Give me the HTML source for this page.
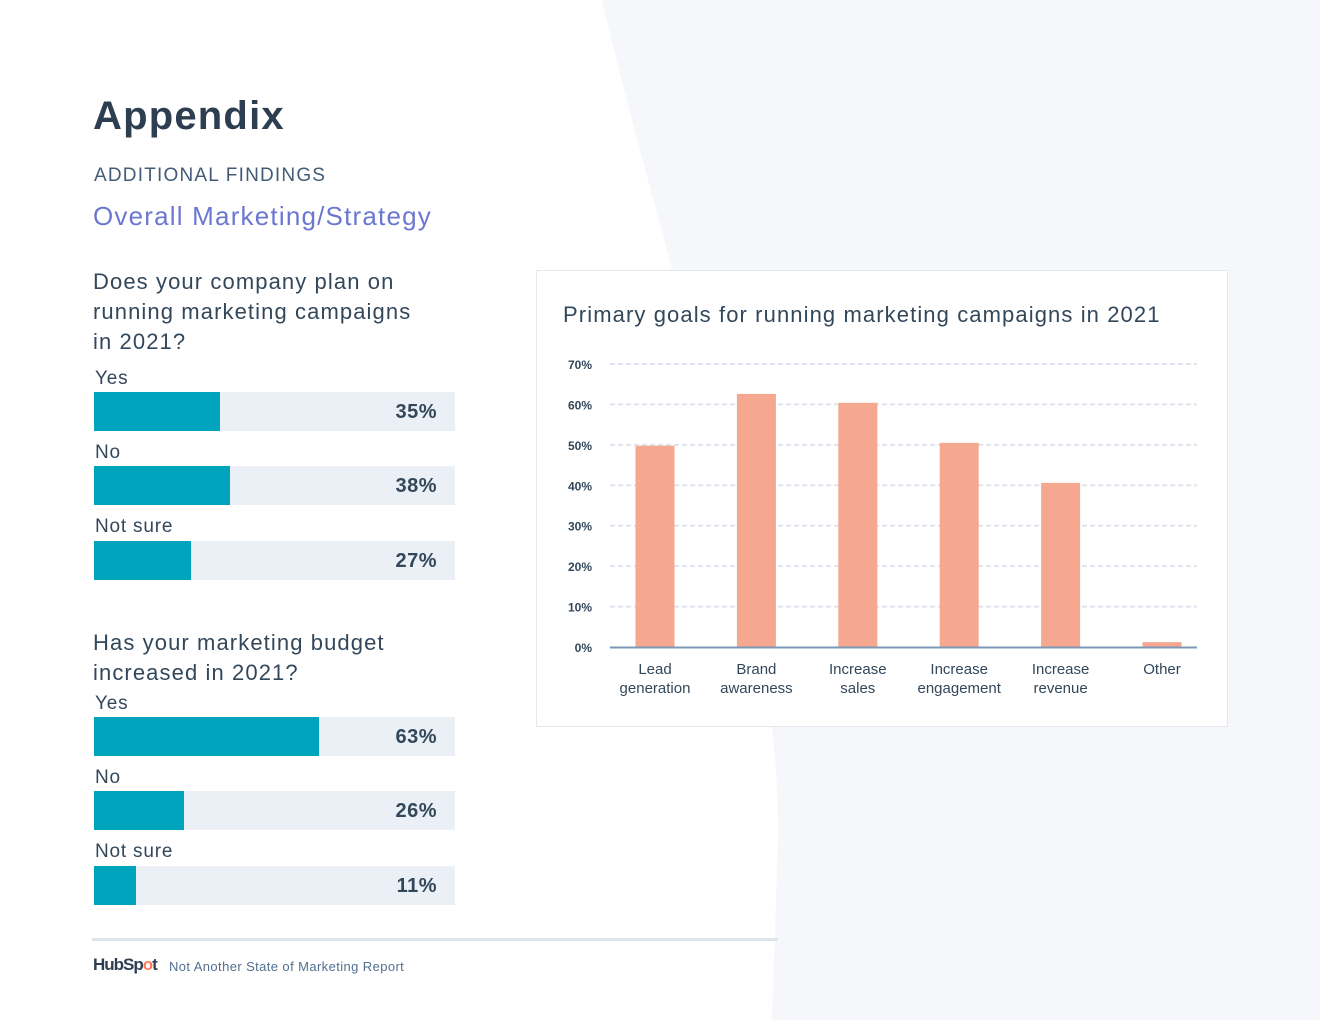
<!DOCTYPE html>
<html><head><meta charset="utf-8"><style>
body{margin:0;width:1320px;height:1020px;position:relative;overflow:hidden;background:#fff;font-family:"Liberation Sans",sans-serif;color:#33475b}
.a{position:absolute}
.lbl{position:absolute;font-size:19px;color:#33475b;left:95px;letter-spacing:.8px}
.track{position:absolute;left:94px;width:361px;height:39px;background:#eaf0f6}
.fill{height:100%;background:#00a4bd}
.val{position:absolute;right:18px;top:9px;font-size:20px;font-weight:bold;color:#33475b;letter-spacing:.5px}
.q{position:absolute;left:93px;font-size:22px;line-height:30px;color:#33475b;letter-spacing:1.1px}
</style></head><body>
<svg class="a" style="left:0;top:0" width="1320" height="1020"><path d="M602 0 C630 120 660 220 680 300 C740 520 780 700 778 840 L772 1020 L1320 1020 L1320 0 Z" fill="#f5f7fa"/></svg>
<div class="a" style="left:93px;top:94px;font-size:40px;font-weight:bold;color:#2d3e50;letter-spacing:1.2px">Appendix</div>
<div class="a" style="left:94px;top:165px;font-size:19px;color:#425b76;letter-spacing:1.2px">ADDITIONAL FINDINGS</div>
<div class="a" style="left:93px;top:201px;font-size:26px;color:#6a78d1;letter-spacing:1.2px">Overall Marketing/Strategy</div>

<div class="q" style="top:267px">Does your company plan on<br>running marketing campaigns<br>in 2021?</div>
<div class="lbl" style="top:368px">Yes</div>
<div class="track" style="top:392px"><div class="fill" style="width:35%"></div><span class="val">35%</span></div>
<div class="lbl" style="top:442px">No</div>
<div class="track" style="top:466px"><div class="fill" style="width:37.7%"></div><span class="val">38%</span></div>
<div class="lbl" style="top:516px">Not sure</div>
<div class="track" style="top:541px"><div class="fill" style="width:27%"></div><span class="val">27%</span></div>

<div class="q" style="top:628px">Has your marketing budget<br>increased in 2021?</div>
<div class="lbl" style="top:693px">Yes</div>
<div class="track" style="top:717px"><div class="fill" style="width:62.3%"></div><span class="val">63%</span></div>
<div class="lbl" style="top:767px">No</div>
<div class="track" style="top:791px"><div class="fill" style="width:25%"></div><span class="val">26%</span></div>
<div class="lbl" style="top:841px">Not sure</div>
<div class="track" style="top:866px"><div class="fill" style="width:11.6%"></div><span class="val">11%</span></div>

<div class="a" style="left:92px;top:938px;width:686px;height:3px;background:#dfe3eb"></div>
<div class="a" style="left:93px;top:955px;font-size:17px;font-weight:bold;color:#2d3e50;letter-spacing:-1px">HubSp<span style="color:#ff7a59">o</span>t</div>
<div class="a" style="left:169px;top:959px;font-size:13px;color:#516f90;letter-spacing:.4px">Not Another State of Marketing Report</div>

<div class="a" style="left:536px;top:270px;width:692px;height:457px;background:#fff;border:1px solid #e5e8ef;box-sizing:border-box"></div>
<div class="a" style="left:563px;top:302px;font-size:22px;color:#33475b;letter-spacing:1.1px">Primary goals for running marketing campaigns in 2021</div>
<svg id="chart" class="a" style="left:0;top:0" width="1320" height="1020"></svg>
<script>
const categories=[["Lead","generation"],["Brand","awareness"],["Increase","sales"],["Increase","engagement"],["Increase","revenue"],["Other"]];
const values=[49.8,62.6,60.4,50.5,40.6,1.2];
const ticks=[0,10,20,30,40,50,60,70];
const NS="http://www.w3.org/2000/svg",svg=document.getElementById('chart');
const y=v=>647-v*4.043, xc=i=>655+i*101.4;
function mk(t,a){const e=document.createElementNS(NS,t);for(const k in a)e.setAttribute(k,a[k]);svg.appendChild(e);return e;}
ticks.forEach(t=>{
 if(t>0){const l=mk('line',{x1:610,x2:1197,y1:y(t),y2:y(t),stroke:'#dfe3eb','stroke-width':2,'stroke-dasharray':'5,3'});
 
 }
 const tx=mk('text',{x:592,y:y(t)+5,'text-anchor':'end','font-size':12,'font-weight':'bold',fill:'#33475b','font-family':'Liberation Sans'});
 tx.textContent=t+'%';
 
 
});
values.forEach((v,i)=>{
 const r=mk('rect',{x:xc(i)-19.5,y:y(v),width:39,height:647-y(v),fill:'#f5a78f'});
 
 
 categories[i].forEach((w,j)=>{
  const t=mk('text',{x:xc(i),y:674+j*19,'text-anchor':'middle','font-size':15,fill:'#33475b','font-family':'Liberation Sans'});
  t.textContent=w;
  
  
 });
});
const ax=mk('line',{x1:610,x2:1197,y1:647.5,y2:647.5,stroke:'#7c98b6','stroke-width':2});


</script>
</body></html>
